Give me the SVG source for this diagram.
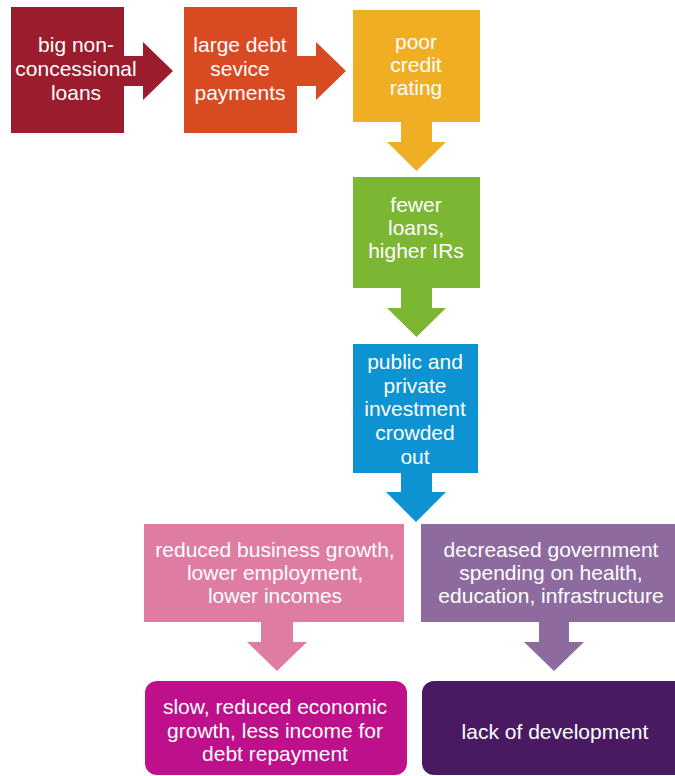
<svg xmlns="http://www.w3.org/2000/svg" width="675" height="776" viewBox="0 0 675 776">
<style>
text{font-family:"Liberation Sans",Arial,sans-serif;font-size:21px;fill:#ffffff;text-anchor:middle}
</style>
<rect width="675" height="776" fill="#ffffff"/>
<g id="connectors">
<path d="M120 56H143V42L173 71L143 100V86H120Z" fill="#9b1c2c"/>
<path d="M293 56H316V42L346 71L316 100V86H293Z" fill="#d84a22"/>
<path d="M401 118H432V142H446L416.5 171L387 142H401Z" fill="#f0ae24"/>
<path d="M401 284H432V308H446L416.5 337L387 308H401Z" fill="#7cb733"/>
<path d="M401 469H432V492H446L416 522L386 492H401Z" fill="#0d92d2"/>
<path d="M261 618H293V642H307L277 671L247 642H261Z" fill="#df7ca3"/>
<path d="M539 618H569V642H584L554 671L524 642H539Z" fill="#8e6b9e"/>
</g>
<g id="n1"><rect x="11" y="7" width="113" height="126" fill="#9b1c2c"/>
<text x="76" y="52">big non-</text><text x="76" y="76">concessional</text><text x="76" y="100">loans</text></g>
<g id="n2"><rect x="184" y="7" width="113" height="126" fill="#d84a22"/>
<text x="240" y="52">large debt</text><text x="240" y="76">sevice</text><text x="240" y="100">payments</text></g>
<g id="n3"><rect x="353" y="10" width="127" height="112" fill="#f0ae24"/>
<text x="416" y="49">poor</text><text x="416" y="72">credit</text><text x="416" y="95">rating</text></g>
<g id="n4"><rect x="353" y="177" width="127" height="111" fill="#7cb733"/>
<text x="416" y="212">fewer</text><text x="416" y="235">loans,</text><text x="416" y="258">higher IRs</text></g>
<g id="n5"><rect x="353" y="344" width="125" height="129" fill="#0d92d2"/>
<text x="415" y="369">public and</text><text x="415" y="393">private</text><text x="415" y="416">investment</text><text x="415" y="440">crowded</text><text x="415" y="464">out</text></g>
<g id="n6"><rect x="144" y="524" width="260" height="98" fill="#df7ca3"/>
<text x="275" y="557">reduced business growth,</text><text x="275" y="580">lower employment,</text><text x="275" y="603">lower incomes</text></g>
<g id="n7"><rect x="421" y="524" width="266" height="98" fill="#8e6b9e"/>
<text x="551" y="557">decreased government</text><text x="551" y="580">spending on health,</text><text x="551" y="603">education, infrastructure</text></g>
<g id="n8"><rect x="145" y="681" width="262" height="94" rx="12" fill="#bd108a"/>
<text x="275" y="714">slow, reduced economic</text><text x="275" y="738">growth, less income for</text><text x="275" y="761">debt repayment</text></g>
<g id="n9"><rect x="422" y="681" width="265" height="94" rx="12" fill="#491a62"/>
<text x="555" y="739">lack of development</text></g>
</svg>
